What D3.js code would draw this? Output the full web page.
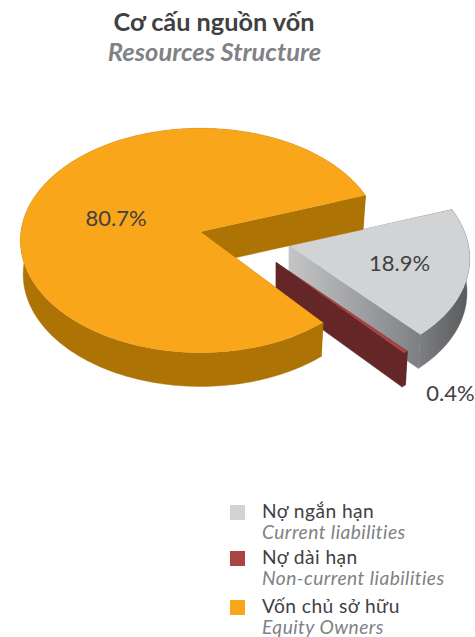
<!DOCTYPE html>
<html lang="vi">
<head>
<meta charset="utf-8">
<title>Cơ cấu nguồn vốn</title>
<script src="https://cdn.jsdelivr.net/npm/d3@7/dist/d3.min.js"></script>
<style>
  html, body { margin: 0; padding: 0; background: #fff; }
  svg { display: block; }
  text { font-family: Lato, "Noto Sans", sans-serif; }
</style>
</head>
<body>
<script>
// Capital structure, in percent of total resources
const categories = ["Nợ ngắn hạn", "Nợ dài hạn", "Vốn chủ sở hữu"];
const categoriesEn = ["Current liabilities", "Non-current liabilities", "Equity Owners"];
const values = [18.9, 0.4, 80.7];

const topColors = ["#d1d3d4", "#a94442", "#faa61a"];
const sideColors = ["url(#greySide)", "#642626", "#ad7305"];

// Where each slice's apex lands after being pulled out of the pie, and how far
// its far edge leans under the perspective of the drawing
const apexes = [{x: 289, y: 245.7, skew: 0.06}, {x: 276, y: 262.3, skew: 0.06}, {x: 200.5, y: 231.7, skew: 0}];
const labelPositions = [{x: 399.5, y: 271}, {x: 450.5, y: 401}, {x: 116, y: 226}];

const width = 475, height = 637;
const radiusX = 179.5, radiusY = 111.5, tilt = 0.0784, depth = 33.8, taper = 0.985;
const startDeg = 70.6;

const svg = d3.select("body").append("svg").attr("width", width).attr("height", height);

const gradient = svg.append("defs").append("linearGradient")
  .attr("id", "greySide").attr("gradientUnits", "userSpaceOnUse")
  .attr("x1", 288).attr("x2", 470).attr("y1", 0).attr("y2", 0);
gradient.append("stop").attr("offset", 0).attr("stop-color", "#c3c5c7");
gradient.append("stop").attr("offset", 0.65).attr("stop-color", "#86888b");
gradient.append("stop").attr("offset", 1).attr("stop-color", "#58595b");

const slices = d3.pie().sort(null)
  .startAngle(startDeg * Math.PI / 180)
  .endAngle((startDeg + 360) * Math.PI / 180)(values);

// Perspective projection of a point of the unit disc onto the top face
function topPoint(angle, r, apex) {
  const u = r * Math.sin(angle), v = -r * Math.cos(angle);
  const w = 1 - tilt * v;
  const dy = radiusY * v / w;
  return [apex.x + radiusX * u / w + apex.skew * dy, apex.y + dy];
}
// Same point on the hidden bottom face: lower and drawn slightly inward
function bottomPoint(angle, r, apex) {
  const [x, y] = topPoint(angle, r, apex);
  return [apex.x + (x - apex.x) * taper, y + depth];
}
function arcPoints(fn, a0, a1, apex) {
  const n = Math.max(2, Math.ceil((a1 - a0) / 0.02));
  return d3.range(n + 1).map(i => fn(a0 + (a1 - a0) * i / n, 1, apex));
}

const polygon = d3.line().curve(d3.curveLinearClosed);
const pieGroup = svg.append("g");

slices.forEach((s, i) => {
  const apex = apexes[i];
  const g = pieGroup.append("g").attr("class", "slice");
  const side = sideColors[i];
  const cuts = [s.startAngle, s.endAngle].map(a => [
    topPoint(a, 0, apex), topPoint(a, 1, apex), bottomPoint(a, 1, apex), bottomPoint(a, 0, apex)
  ]);
  const wall = arcPoints(topPoint, s.startAngle, s.endAngle, apex)
    .concat(arcPoints(bottomPoint, s.startAngle, s.endAngle, apex).reverse());
  [wall, cuts[0], cuts[1]].forEach(p =>
    g.append("path").attr("d", polygon(p)).attr("fill", side)
      .attr("stroke", side).attr("stroke-width", 0.4));
  const top = [topPoint(0, 0, apex)].concat(arcPoints(topPoint, s.startAngle, s.endAngle, apex));
  g.append("path").attr("d", polygon(top)).attr("fill", topColors[i]);
});

// Value labels
svg.append("g").selectAll("text").data(values).join("text")
  .attr("x", (d, i) => labelPositions[i].x)
  .attr("y", (d, i) => labelPositions[i].y)
  .attr("text-anchor", "middle")
  .attr("font-size", 22)
  .attr("fill", "#414042")
  .text(d => d.toFixed(1) + "%");

// Heading
svg.append("text").attr("x", 214).attr("y", 31).attr("text-anchor", "middle")
  .attr("font-size", 25.3).attr("font-weight", 700).attr("fill", "#414042")
  .text("Cơ cấu nguồn vốn");
svg.append("text").attr("x", 214.5).attr("y", 61).attr("text-anchor", "middle")
  .attr("font-size", 25.5).attr("font-weight", 700).attr("font-style", "italic").attr("fill", "#808285")
  .text("Resources Structure");

// Legend
const legendY = d3.scaleOrdinal().domain(categories).range([505, 551, 600]);
const legend = svg.append("g").selectAll("g").data(categories).join("g")
  .attr("transform", d => `translate(230,${legendY(d)})`);
legend.append("rect").attr("width", 15).attr("height", 15)
  .attr("fill", (d, i) => topColors[i]);
legend.append("text").attr("x", 32).attr("y", 12.5)
  .attr("font-size", 19.2).attr("letter-spacing", 0.45).attr("fill", "#414042").text(d => d);
legend.append("text").attr("x", 32).attr("y", 33.5)
  .attr("font-size", 19.2).attr("letter-spacing", 0.45).attr("font-style", "italic").attr("fill", "#808285")
  .text((d, i) => categoriesEn[i]);
</script>
</body>
</html>
